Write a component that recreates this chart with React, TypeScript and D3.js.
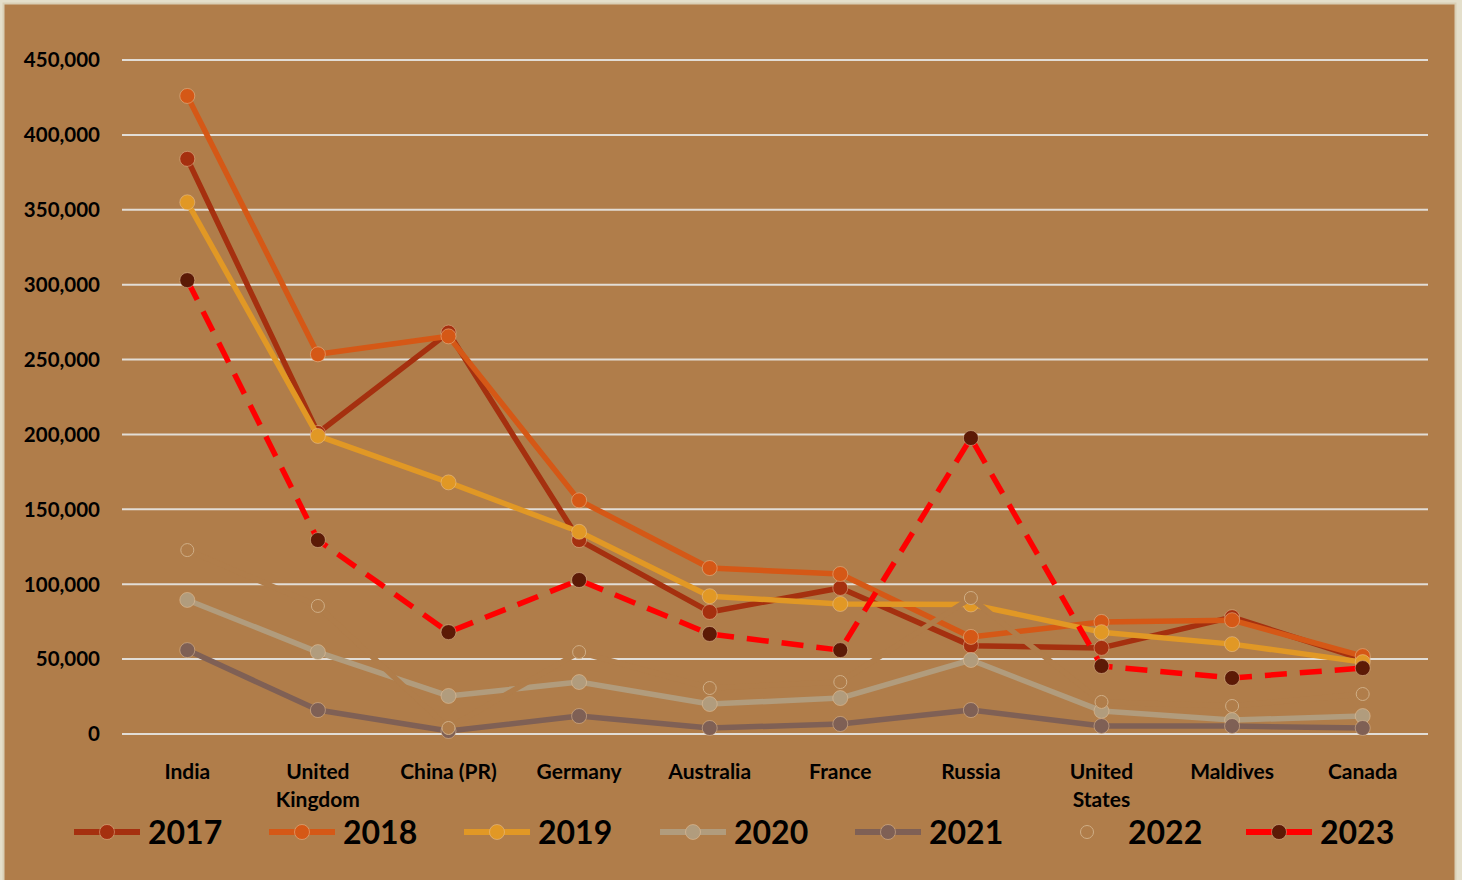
import React, { useEffect, useRef } from 'react';
import * as d3 from 'd3';

// Categories (countries) and yearly values
const countries = ['India', 'United Kingdom', 'China (PR)', 'Germany', 'Australia', 'France', 'Russia', 'United States', 'Maldives', 'Canada'];
const years = ['2017', '2018', '2019', '2020', '2021', '2022', '2023'];

const v2017 = [384000, 201000, 268000, 129500, 81500, 97500, 59000, 57500, 78000, 50000];
const v2018 = [426000, 253500, 265500, 156000, 110800, 106800, 64800, 74800, 76000, 52000];
const v2019 = [355000, 199000, 168000, 135000, 92000, 86800, 86500, 68000, 60000, 48000];
const v2020 = [89500, 54700, 25400, 34700, 20000, 24000, 49400, 15400, 9300, 12000];
const v2021 = [56000, 16000, 2000, 12000, 4000, 6700, 16000, 5300, 5300, 4000];
const v2022 = [122800, 85500, 4000, 54700, 30700, 34700, 90800, 21400, 18700, 26700];
const v2023 = [303000, 129500, 68000, 102800, 66800, 56000, 197600, 45400, 37400, 44000];

const yTicks = [0, 50000, 100000, 150000, 200000, 250000, 300000, 350000, 400000, 450000];

const BG = '#b07d4a';

const seriesStyle = {
  '2017': { line: '#a5300f', marker: '#a5300f', dash: null },
  '2018': { line: '#d55816', marker: '#d55816', dash: null },
  '2019': { line: '#e19825', marker: '#e19825', dash: null },
  '2020': { line: '#b19c7d', marker: '#b19c7d', dash: null },
  '2021': { line: '#7f6055', marker: '#7f6055', dash: null },
  '2022': { line: BG, marker: BG, dash: null }, // drawn in the plot colour, so it cuts the lines under it
  '2023': { line: '#ff0000', marker: '#5c1a06', dash: '22,13' },
};

const App = () => {
  const svgRef = useRef<SVGSVGElement>(null);

  useEffect(() => {
    const width = 1462;
    const height = 880;
    const svg = d3.select(svgRef.current);
    svg.selectAll('*').remove();
    svg.attr('width', width).attr('height', height);

    const font = "Lato, 'Open Sans', sans-serif";
    const margin = { top: 60, right: 34, bottom: 146, left: 122 };

    // frame
    svg.append('rect').attr('width', width).attr('height', height).attr('fill', '#e4dfcb');
    svg.append('rect')
      .attr('x', 3.5).attr('y', 3.5).attr('width', 1452).attr('height', 880)
      .attr('fill', BG).attr('stroke', '#d9cfb5').attr('stroke-width', 2);

    const x = d3.scaleBand()
      .domain(countries)
      .range([margin.left, width - margin.right])
      .padding(0);

    const y = d3.scaleLinear()
      .domain([0, 450000])
      .range([height - margin.bottom, margin.top]);

    const cx = (c: string) => (x(c) as number) + x.bandwidth() / 2;

    // gridlines
    svg.append('g')
      .selectAll('line')
      .data(yTicks)
      .enter()
      .append('line')
      .attr('x1', margin.left)
      .attr('x2', width - margin.right)
      .attr('y1', d => y(d))
      .attr('y2', d => y(d))
      .attr('stroke', '#e2ddd6')
      .attr('stroke-width', 2);

    // y tick labels
    svg.append('g')
      .selectAll('text')
      .data(yTicks)
      .enter()
      .append('text')
      .attr('x', 100)
      .attr('y', d => y(d))
      .attr('dy', '0.36em')
      .attr('text-anchor', 'end')
      .attr('font-family', font)
      .attr('font-weight', 'bold')
      .attr('font-size', 20.5)
      .attr('fill', '#000')
      .text(d => d3.format(',')(d));

    // x labels (two lines for the "United ..." ones)
    const xl = svg.append('g')
      .selectAll('text')
      .data(countries)
      .enter()
      .append('text')
      .attr('x', d => cx(d))
      .attr('y', 779)
      .attr('text-anchor', 'middle')
      .attr('font-family', font)
      .attr('font-weight', 'bold')
      .attr('font-size', 21)
      .attr('fill', '#000');
    xl.each(function (d) {
      const parts = d.startsWith('United') ? ['United', d.slice(7)] : [d];
      const t = d3.select(this);
      parts.forEach((p, i) => {
        t.append('tspan').attr('x', cx(d)).attr('dy', i === 0 ? 0 : 28).text(p);
      });
    });

    const allValues = [v2017, v2018, v2019, v2020, v2021, v2022, v2023];

    const line = d3.line<number>()
      .x((_, i) => cx(countries[i]))
      .y(d => y(d));

    allValues.forEach((vals, si) => {
      const yr = years[si];
      const st = seriesStyle[yr];
      const g = svg.append('g');
      g.append('path')
        .datum(vals)
        .attr('d', line)
        .attr('fill', 'none')
        .attr('stroke', st.line)
        .attr('stroke-width', 5.5)
        .attr('stroke-linejoin', 'round')
        .attr('stroke-dasharray', st.dash);
      g.selectAll('circle')
        .data(vals)
        .enter()
        .append('circle')
        .attr('cx', (_, i) => cx(countries[i]))
        .attr('cy', d => y(d))
        .attr('r', yr === '2022' ? 6.5 : 7.5)
        .attr('fill', st.marker)
        .attr('stroke', yr === '2022' ? '#cfae86' : 'rgba(235,200,160,0.6)')
        .attr('stroke-width', yr === '2022' ? 1 : 0.8);
    });

    // legend
    const legendX = [74, 269, 464, 660, 855, 1054, 1246];
    const legendY = 832;
    years.forEach((yr, i) => {
      const st = seriesStyle[yr];
      const g = svg.append('g').attr('transform', `translate(${legendX[i]},${legendY})`);
      if (yr !== '2022') {
        g.append('line')
          .attr('x1', 0).attr('x2', 66)
          .attr('stroke', st.line).attr('stroke-width', 6)
          .attr('stroke-dasharray', st.dash ? '29,8' : null);
      }
      g.append('circle')
        .attr('cx', 33).attr('cy', 0).attr('r', yr === '2022' ? 6.5 : 7.5)
        .attr('fill', st.marker)
        .attr('stroke', yr === '2022' ? '#cfae86' : 'rgba(235,200,160,0.6)')
        .attr('stroke-width', yr === '2022' ? 1 : 0.8);
      g.append('text')
        .attr('x', 74)
        .attr('y', 0)
        .attr('dy', '0.36em')
        .attr('font-family', font)
        .attr('font-weight', 'bold')
        .attr('font-size', 32)
        .attr('fill', '#000')
        .text(yr);
    });
  }, []);

  return (
    <svg ref={svgRef} style={{ position: 'absolute', left: 0, top: 0, display: 'block' }}></svg>
  );
};

export default App;
